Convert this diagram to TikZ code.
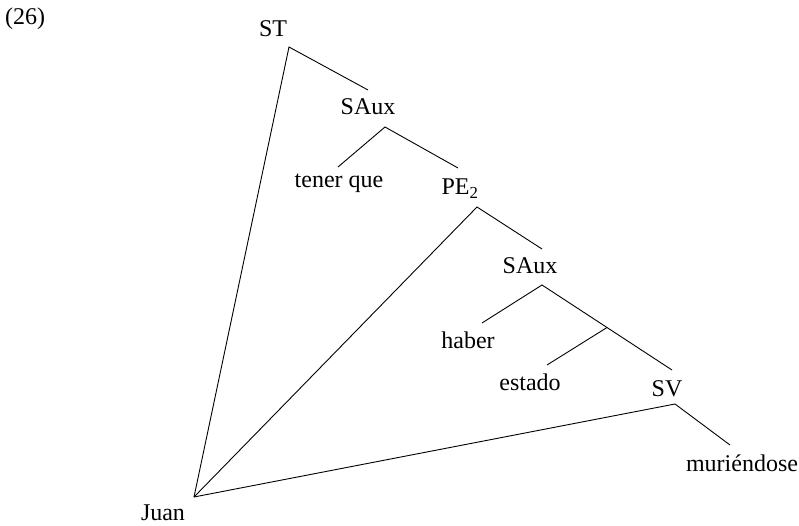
\documentclass[tikz,border=0pt]{standalone}
\usepackage{fontspec}
\setmainfont{Liberation Serif}
\begin{document}
\begin{tikzpicture}[x=1pt,y=-1pt,
  lbl/.style={inner sep=0pt,anchor=base,font=\fontsize{24}{28}\selectfont},
  edge/.style={line width=0.9pt}]
\useasboundingbox (0,0) rectangle (799,526);
% labels
\node[lbl,anchor=base west] (num) at (5,25) {(26)};
\node[lbl] (ST) at (273,37) {ST};
\node[lbl] (SAuxA) at (368,115) {SAux};
\node[lbl] (tener) at (339,188) {tener que};
\node[lbl] (PE) at (460,195) {PE\textsubscript{2}};
\node[lbl] (SAuxB) at (530,273) {SAux};
\node[lbl] (haber) at (468,348) {haber};
\node[lbl] (estado) at (530,390) {estado};
\node[lbl] (SV) at (667,396) {SV};
\node[lbl] (muri) at (742,471) {muriéndose};
\node[lbl] (Juan) at (163,520) {Juan};
% branch points
\coordinate (st) at (289,47);
\coordinate (sauxAtop) at (368,90);
\coordinate (sauxA) at (385,127);
\coordinate (tenertop) at (338,167);
\coordinate (petop) at (458,168);
\coordinate (pe) at (477,207);
\coordinate (sauxBtop) at (542,249);
\coordinate (sauxB) at (542,285);
\coordinate (habertop) at (482,323);
\coordinate (mid) at (607,327.5);
\coordinate (estadotop) at (547,365);
\coordinate (svtop) at (672,370);
\coordinate (sv) at (675,404);
\coordinate (muritop) at (730,445);
\coordinate (juan) at (194,497);
% edges
\draw[edge] (sauxAtop) -- (st) -- (juan);
\draw[edge] (tenertop) -- (sauxA) -- (petop);
\draw[edge] (sauxBtop) -- (pe) -- (juan);
\draw[edge] (habertop) -- (sauxB) -- (svtop);
\draw[edge] (mid) -- (estadotop);
\draw[edge] (muritop) -- (sv) -- (juan);
\end{tikzpicture}
\end{document}
